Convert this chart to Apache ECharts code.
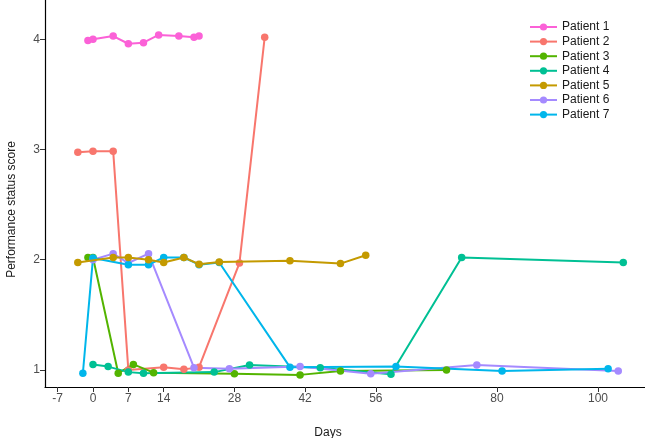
<!DOCTYPE html>
<html>
<head>
<meta charset="utf-8">
<script src="https://cdn.jsdelivr.net/npm/echarts@6/dist/echarts.min.js"></script>
<style>
html,body{margin:0;padding:0;background:#fff;}
#chart{width:645px;height:438px;}
</style>
</head>
<body>
<div id="chart"></div>
<script>
var patientNames = ["Patient 1","Patient 2","Patient 3","Patient 4","Patient 5","Patient 6","Patient 7"];
var colors = ["#FB61D7","#F8766D","#53B400","#00C094","#C49A00","#A58AFF","#00B6EB"];
var xTicks = [-7, 0, 7, 14, 28, 42, 56, 80, 100];
var yTicks = [1, 2, 3, 4];

var p1Days = [-1, 0, 4, 7, 10, 13, 17, 20, 21];
var p1Vals = [3.99, 4.0, 4.03, 3.96, 3.97, 4.04, 4.03, 4.02, 4.03];
var p2Days = [-3, 0, 4, 7, 14, 18, 21, 29, 34];
var p2Vals = [2.975, 2.985, 2.985, 1.0, 1.025, 1.005, 1.025, 1.97, 4.02];
var p3Days = [-1, 0, 5, 8, 12, 28, 41, 49, 70];
var p3Vals = [2.02, 2.02, 0.97, 1.05, 0.975, 0.965, 0.955, 0.99, 1.0];
var p4Days = [0, 3, 7, 10, 24, 31, 45, 59, 73, 105];
var p4Vals = [1.05, 1.03, 0.98, 0.97, 0.98, 1.045, 1.02, 0.96, 2.02, 1.975];
var p5Days = [-3, 4, 7, 11, 14, 18, 21, 25, 39, 49, 54];
var p5Vals = [1.975, 2.02, 2.02, 2.0, 1.975, 2.02, 1.96, 1.98, 1.99, 1.965, 2.04];
var p6Days = [0, 4, 7, 11, 20, 27, 41, 55, 76, 104];
var p6Vals = [2.0, 2.055, 1.97, 2.055, 1.02, 1.01, 1.03, 0.965, 1.045, 0.99];
var p7Days = [-2, 0, 7, 11, 14, 18, 21, 25, 39, 60, 81, 102];
var p7Vals = [0.97, 2.015, 1.955, 1.955, 2.02, 2.02, 1.955, 1.975, 1.025, 1.03, 0.99, 1.01];

var allDays = [p1Days, p2Days, p3Days, p4Days, p5Days, p6Days, p7Days];
var allVals = [p1Vals, p2Vals, p3Vals, p4Vals, p5Vals, p6Vals, p7Vals];

var series = patientNames.map(function (name, i) {
  return {
    name: name,
    type: 'line',
    z: i === 4 ? 3 : 2,
    data: allDays[i].map(function (d, j) { return [d, allVals[i][j]]; }),
    symbol: 'circle',
    symbolSize: 7.5,
    showSymbol: true,
    lineStyle: { width: 2, color: colors[i] },
    itemStyle: { color: colors[i] },
    emphasis: { disabled: true },
    animation: false
  };
});

var chart = echarts.init(document.getElementById('chart'), null, { renderer: 'canvas' });
var font = 'Liberation Sans, Arial, Helvetica, sans-serif';
chart.setOption({
  backgroundColor: '#ffffff',
  color: colors,
  animation: false,
  grid: { left: 45, right: 0, top: 0, bottom: 51, containLabel: false, outerBoundsMode: 'none' },
  legend: {
    orient: 'vertical',
    left: 529,
    top: 21,
    padding: 0,
    itemWidth: 27,
    itemHeight: 9,
    itemGap: 2.6,
    textStyle: { fontFamily: font, fontSize: 12, color: '#1a1a1a' },
    data: patientNames
  },
  xAxis: {
    type: 'value',
    min: -9.5,
    max: 109.3,
    name: 'Days',
    nameLocation: 'middle',
    nameGap: 40,
    nameTextStyle: { fontFamily: font, fontSize: 12, color: '#1a1a1a', padding: [0, 34, 0, 0] },
    axisLine: { show: true, onZero: false, lineStyle: { color: '#000', width: 1.2 } },
    axisTick: { show: true, length: 5, customValues: xTicks, lineStyle: { color: '#333', width: 1 } },
    axisLabel: { customValues: xTicks, fontFamily: font, fontSize: 12, color: '#4d4d4d', margin: 6 },
    splitLine: { show: false }
  },
  yAxis: {
    type: 'value',
    min: 0.845,
    max: 4.357,
    name: 'Performance status score',
    nameLocation: 'middle',
    nameGap: 27,
    nameRotate: 90,
    nameTextStyle: { fontFamily: font, fontSize: 12, color: '#1a1a1a', padding: [0, 32, 0, 0] },
    axisLine: { show: true, onZero: false, lineStyle: { color: '#000', width: 1.2 } },
    axisTick: { show: true, length: 5, customValues: yTicks, lineStyle: { color: '#333', width: 1 } },
    axisLabel: { customValues: yTicks, fontFamily: font, fontSize: 12, color: '#4d4d4d', margin: 5 },
    splitLine: { show: false }
  },
  series: series
});
</script>
</body>
</html>
